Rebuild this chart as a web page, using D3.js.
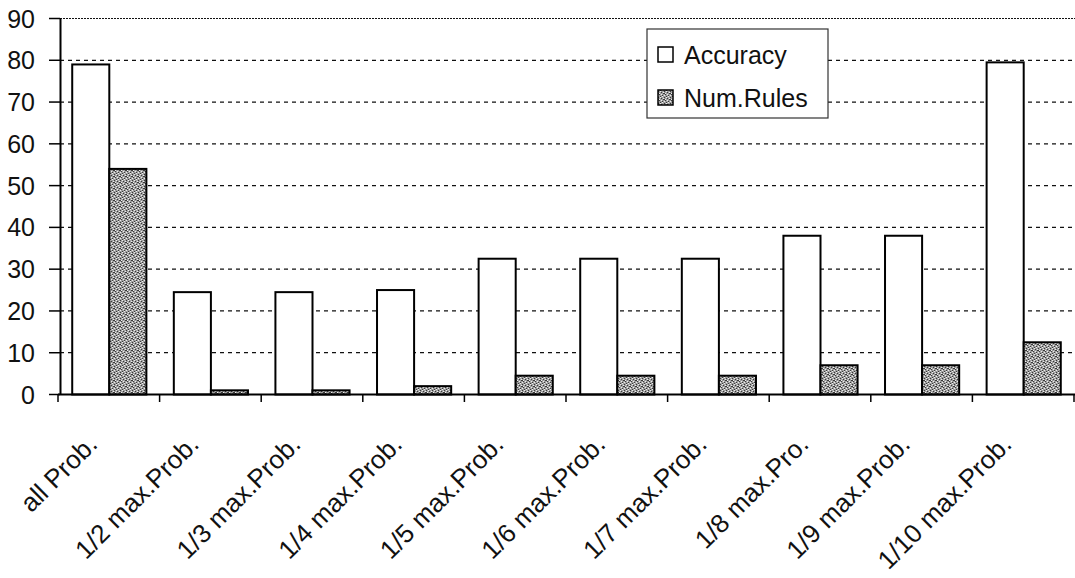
<!DOCTYPE html>
<html>
<head>
<meta charset="utf-8">
<script src="https://cdn.jsdelivr.net/npm/d3@7"></script>
<style>
  html, body { margin: 0; padding: 0; background: #fff; }
  svg { display: block; font-family: "Liberation Sans", Arial, sans-serif; }
</style>
</head>
<body>
<svg id="chart" width="1075" height="578"></svg>
<script>
// Rule-pruning thresholds compared by accuracy and rule count
const categories = ["all Prob.", "1/2 max.Prob.", "1/3 max.Prob.", "1/4 max.Prob.", "1/5 max.Prob.",
                    "1/6 max.Prob.", "1/7 max.Prob.", "1/8 max.Pro.", "1/9 max.Prob.", "1/10 max.Prob."];
const seriesNames = ["Accuracy", "Num.Rules"];
const accuracy = [79, 24.5, 24.5, 25, 32.5, 32.5, 32.5, 38, 38, 79.5];
const numRules = [54, 1, 1, 2, 4.5, 4.5, 4.5, 7, 7, 12.5];
const yTicks = [0, 10, 20, 30, 40, 50, 60, 70, 80, 90];

const svg = d3.select("#chart");
const W = 1075;
const plotL = 58, plotR = 1074, plotT = 18, plotB = 394;

// Stippled grey texture for the second series
const defs = svg.append("defs");
const pat = defs.append("pattern")
  .attr("id", "stipple").attr("patternUnits", "userSpaceOnUse")
  .attr("width", 6).attr("height", 6);
pat.append("rect").attr("width", 6).attr("height", 6).attr("fill", "#a0a0a0");
const darkDots = [[0,0],[3,1],[1,3],[4,4],[2,5],[5,2],[0,2]];
const lightDots = [[2,0],[5,1],[0,4],[3,3],[4,5],[1,2]];
darkDots.forEach(([x, y]) => pat.append("rect").attr("x", x).attr("y", y).attr("width", 1).attr("height", 1).attr("fill", "#3a3a3a"));
lightDots.forEach(([x, y]) => pat.append("rect").attr("x", x).attr("y", y).attr("width", 1).attr("height", 1).attr("fill", "#eeeeee"));

const x = d3.scaleBand().domain(categories).range([plotL, plotR]).paddingInner(0).paddingOuter(0);
const inner = d3.scaleBand().domain(seriesNames).range([0, x.bandwidth()]).paddingInner(0).paddingOuter(0.37);
const y = d3.scaleLinear().domain([0, 90]).range([plotB, plotT]);

// Dashed horizontal gridlines
svg.append("g").selectAll("line").data(yTicks.filter(d => d > 0)).join("line")
  .attr("x1", plotL + 2).attr("x2", W)
  .attr("y1", d => y(d) + 0.5).attr("y2", d => y(d) + 0.5)
  .attr("stroke", "#111").attr("stroke-width", 1.2)
  .attr("stroke-dasharray", d => d === 90 ? "2,1" : "4,4");

// Bars
const seriesData = [accuracy, numRules];
const fills = ["#ffffff", "url(#stipple)"];
seriesNames.forEach((name, si) => {
  svg.append("g").selectAll("rect").data(categories).join("rect")
    .attr("x", c => x(c) + inner(name) + 0.5)
    .attr("y", (c, i) => y(seriesData[si][i]) + 0.5)
    .attr("width", inner.bandwidth())
    .attr("height", (c, i) => y(0) - y(seriesData[si][i]))
    .attr("fill", fills[si])
    .attr("stroke", "#000").attr("stroke-width", 2);
});

// Y axis
const yAxis = d3.axisLeft(y).tickValues(yTicks).tickSize(11).tickPadding(14).tickSizeOuter(0);
const gy = svg.append("g").attr("transform", `translate(${plotL + 2},0)`).call(yAxis);
gy.select(".domain").attr("stroke", "#000").attr("stroke-width", 2);
gy.selectAll(".tick line").attr("stroke", "#000").attr("stroke-width", 1.5);
gy.selectAll("text").attr("font-size", 25).attr("fill", "#111").attr("dy", "0.36em");

// X axis baseline with tick marks at category boundaries
svg.append("line").attr("x1", plotL).attr("x2", W).attr("y1", plotB + 0.5).attr("y2", plotB + 0.5)
  .attr("stroke", "#000").attr("stroke-width", 2);
const bounds = categories.map(c => x(c)).concat([x(categories[categories.length - 1]) + x.bandwidth()]);
svg.append("g").selectAll("line").data(bounds).join("line")
  .attr("x1", d => d).attr("x2", d => d)
  .attr("y1", plotB).attr("y2", plotB + 8)
  .attr("stroke", "#000").attr("stroke-width", 1.5);

// Rotated category labels
svg.append("g").selectAll("text").data(categories).join("text")
  .attr("transform", c => `translate(${x(c) + x.bandwidth() / 2 - 10},${plotB + 52}) rotate(-45)`)
  .attr("text-anchor", "end")
  .attr("font-size", 26).attr("fill", "#111")
  .text(c => c);

// Legend
const lg = svg.append("g").attr("transform", "translate(647,29)");
lg.append("rect").attr("width", 181).attr("height", 89).attr("fill", "#fff")
  .attr("stroke", "#333").attr("stroke-width", 1.2);
seriesNames.forEach((name, i) => {
  const row = lg.append("g").attr("transform", `translate(11,${25 + i * 43})`);
  row.append("rect").attr("x", 0).attr("y", -7).attr("width", 15).attr("height", 15)
    .attr("fill", fills[i]).attr("stroke", "#000").attr("stroke-width", 1.5);
  row.append("text").attr("x", 26).attr("y", 1).attr("dy", "0.36em")
    .attr("font-size", 25).attr("fill", "#111").text(name);
});
</script>
</body>
</html>
